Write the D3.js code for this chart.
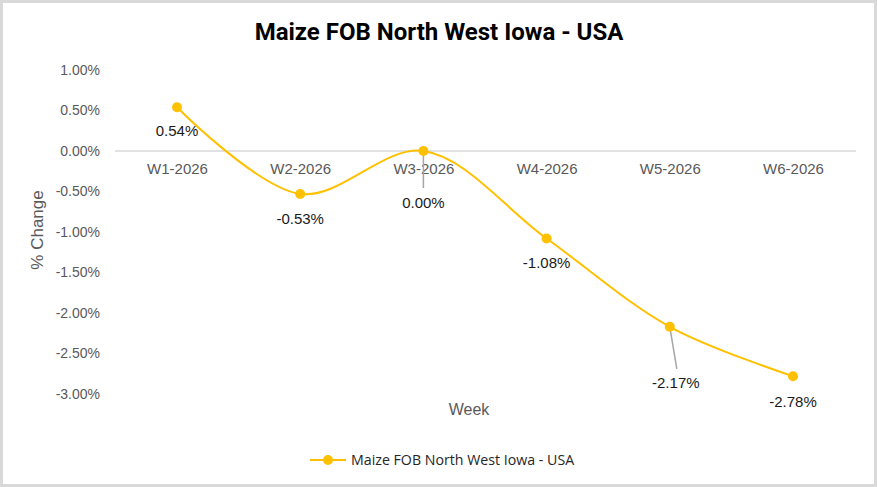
<!DOCTYPE html>
<html>
<head>
<meta charset="utf-8">
<script src="https://cdn.jsdelivr.net/npm/d3@7"></script>
<style>
  html, body { margin: 0; padding: 0; background: #fff; }
  svg { display: block; }
</style>
</head>
<body>
<svg id="chart"></svg>
<script>
// data
const weeks = ["W1-2026", "W2-2026", "W3-2026", "W4-2026", "W5-2026", "W6-2026"];
const changes = [0.54, -0.53, 0.00, -1.08, -2.17, -2.78];
const yTicks = [1.0, 0.5, 0.0, -0.5, -1.0, -1.5, -2.0, -2.5, -3.0];
const seriesName = "Maize FOB North West Iowa - USA";

const width = 877, height = 487;
const svg = d3.select("#chart").attr("width", width).attr("height", height);
const font = "Liberation Sans, Arial, sans-serif";
const gold = "#FFC000";
// Excel style percent, plain hyphen for minus
const pct = d => d3.format(".2f")(d).replace("\u2212", "-") + "%";

// frame
svg.append("rect")
    .attr("x", 1.5).attr("y", 1.5)
    .attr("width", width - 3).attr("height", height - 3)
    .attr("fill", "#fff").attr("stroke", "#d9d9d9").attr("stroke-width", 3);

const x = d3.scalePoint().domain(weeks).range([177, 793]);
const y = d3.scaleLinear().domain([-3, 1]).range([394, 70]);

// title
svg.append("text")
    .attr("x", 439).attr("y", 40)
    .attr("text-anchor", "middle")
    .attr("font-family", "'Liberation Sans Narrow', 'Arial Narrow', Roboto, sans-serif")
    .attr("font-weight", "bold")
    .attr("font-size", 24)
    .attr("fill", "#000")
    .text(seriesName);

// y axis labels
const yAxis = d3.axisLeft(y).tickValues(yTicks).tickSize(0).tickPadding(0)
    .tickFormat(pct);
const gy = svg.append("g").attr("transform", "translate(100,0)").call(yAxis);
gy.select(".domain").remove();
gy.selectAll("text")
    .attr("font-family", font).attr("font-size", 14).attr("fill", "#595959");

// zero line
svg.append("line")
    .attr("x1", 115).attr("x2", 856)
    .attr("y1", y(0)).attr("y2", y(0))
    .attr("stroke", "#d9d9d9").attr("stroke-width", 1.5);

// category labels (sit just under the zero line)
const xAxis = d3.axisBottom(x).tickSize(0).tickPadding(0);
const gx = svg.append("g").attr("transform", `translate(0,${y(0) + 12})`).call(xAxis);
gx.select(".domain").remove();
gx.selectAll("text")
    .attr("font-family", font).attr("font-size", 15).attr("fill", "#595959");

// axis titles
svg.append("text")
    .attr("transform", "translate(43,230) rotate(-90)")
    .attr("text-anchor", "middle")
    .attr("font-family", font).attr("font-size", 17).attr("fill", "#595959")
    .text("% Change");
svg.append("text")
    .attr("x", 469).attr("y", 415)
    .attr("text-anchor", "middle")
    .attr("font-family", font).attr("font-size", 16).attr("fill", "#595959")
    .text("Week");

// line
const pts = weeks.map((w, i) => ({ w, v: changes[i] }));
const line = d3.line()
    .x(d => x(d.w)).y(d => y(d.v))
    .curve(d3.curveCatmullRom.alpha(0.5));
svg.append("path")
    .datum(pts)
    .attr("d", line)
    .attr("fill", "none")
    .attr("stroke", gold).attr("stroke-width", 2);

// leader lines for moved labels
const leaders = [
    { i: 2, dx: 0, dy: 37 },
    { i: 4, dx: 7, dy: 42 }
];
svg.selectAll(".leader").data(leaders).enter().append("line")
    .attr("x1", d => x(weeks[d.i])).attr("y1", d => y(changes[d.i]))
    .attr("x2", d => x(weeks[d.i]) + d.dx).attr("y2", d => y(changes[d.i]) + d.dy)
    .attr("stroke", "#a6a6a6").attr("stroke-width", 1.5);

// markers
svg.selectAll(".pt").data(pts).enter().append("circle")
    .attr("cx", d => x(d.w)).attr("cy", d => y(d.v))
    .attr("r", 5).attr("fill", gold);

// data labels
const labelOffsets = [[0, 29], [0, 30], [0, 57], [0, 30], [6, 61], [0, 31]];
svg.selectAll(".lbl").data(pts).enter().append("text")
    .attr("x", (d, i) => x(d.w) + labelOffsets[i][0])
    .attr("y", (d, i) => y(d.v) + labelOffsets[i][1])
    .attr("text-anchor", "middle")
    .attr("font-family", font).attr("font-size", 15).attr("fill", "#1a1a1a")
    .text(d => pct(d.v));

// legend
const lg = svg.append("g");
lg.append("line").attr("x1", 310).attr("x2", 346).attr("y1", 460).attr("y2", 460)
    .attr("stroke", gold).attr("stroke-width", 2);
lg.append("circle").attr("cx", 328).attr("cy", 460).attr("r", 5).attr("fill", gold);
lg.append("text").attr("x", 351).attr("y", 465)
    .attr("font-family", "'Open Sans', sans-serif").attr("font-size", 14.2).attr("fill", "#262626")
    .text(seriesName);
</script>
</body>
</html>
